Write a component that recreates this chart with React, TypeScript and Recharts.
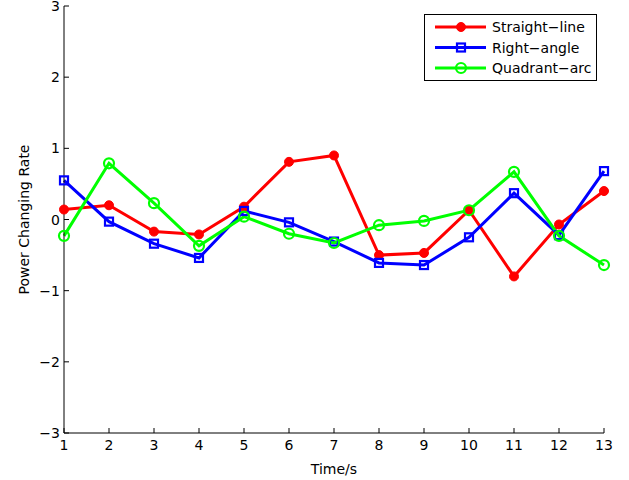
import { LineChart, Line, XAxis, YAxis, Label } from "recharts";

const times = [1, 2, 3, 4, 5, 6, 7, 8, 9, 10, 11, 12, 13];
const straightLine = [0.14, 0.2, -0.17, -0.21, 0.18, 0.81, 0.9, -0.5, -0.47, 0.13, -0.8, -0.07, 0.4];
const rightAngle = [0.55, -0.03, -0.34, -0.54, 0.12, -0.04, -0.31, -0.61, -0.64, -0.25, 0.37, -0.22, 0.68];
const quadrantArc = [-0.23, 0.79, 0.23, -0.37, 0.04, -0.2, -0.33, -0.08, -0.02, 0.13, 0.67, -0.23, -0.64];
const yTicks = [-3, -2, -1, 0, 1, 2, 3];

const data = times.map((t, i) => ({
  t,
  straight: straightLine[i],
  right: rightAngle[i],
  quadrant: quadrantArc[i],
}));

const FONT = "'DejaVu Sans', sans-serif";

const SERIES = [
  { key: "straight", name: "Straight\u2212line", color: "#ff0000", marker: "filled" },
  { key: "right", name: "Right\u2212angle", color: "#0000ff", marker: "square" },
  { key: "quadrant", name: "Quadrant\u2212arc", color: "#00ff00", marker: "circle" },
];

const Marker = ({ cx, cy, kind, color }: any) => {
  if (cx == null || cy == null) return null;
  if (kind === "filled") return <circle cx={cx} cy={cy} r={4.5} fill={color} stroke={color} strokeWidth={1} />;
  if (kind === "square")
    return <rect x={cx - 4} y={cy - 4} width={8} height={8} fill="none" stroke={color} strokeWidth={2.2} />;
  return <circle cx={cx} cy={cy} r={5} fill="none" stroke={color} strokeWidth={2.2} />;
};

const XTick = ({ x, y, payload }: any) => (
  <g>
    <line x1={x} y1={y} x2={x} y2={y - 5} stroke="#000" strokeWidth={1} />
    <text x={x} y={y + 17} textAnchor="middle" fontSize={14} fontFamily={FONT} fill="#000">
      {payload.value}
    </text>
  </g>
);

const YTick = ({ x, y, payload }: any) => (
  <g>
    <line x1={x} y1={y} x2={x + 5} y2={y} stroke="#000" strokeWidth={1} />
    <text x={x - 4} y={y + 5} textAnchor="end" fontSize={14} fontFamily={FONT} fill="#000">
      {payload.value < 0 ? "\u2212" + Math.abs(payload.value) : payload.value}
    </text>
  </g>
);

// legend drawn as an overlay so it doesn't take space from the plot
const LegendBox = () => (
  <svg width={174} height={68} style={{ position: "absolute", left: 424, top: 14, display: "block" }}>
    <rect x={0.5} y={0.5} width={172} height={66} fill="#fff" stroke="#000" strokeWidth={1} />
    {SERIES.map((s, i) => {
      const cy = 13 + i * 20.5;
      return (
        <g key={s.key}>
          <line x1={11} y1={cy} x2={62} y2={cy} stroke={s.color} strokeWidth={3} />
          <Marker cx={37} cy={cy} kind={s.marker} color={s.color} />
          <text x={68} y={cy + 5} fontSize={14} fontFamily={FONT} fill="#000">
            {s.name}
          </text>
        </g>
      );
    })}
  </svg>
);

export default function App() {
  return (
    <div style={{ position: "absolute", left: 0, top: 0, width: 629, height: 480, background: "#fff" }}>
      <LineChart width={629} height={480} data={data} margin={{ top: 6, right: 25, bottom: 0, left: 20 }}>
        <XAxis
          dataKey="t"
          type="number"
          domain={[1, 13]}
          ticks={times}
          tickSize={0}
          tickMargin={0}
          tickLine={false}
          tick={<XTick />}
          height={47}
          stroke="#000"
          interval={0}
        >
          <Label value="Time/s" position="insideBottom" offset={6} style={{ fontSize: 14, fontFamily: FONT, fill: "#000" }} />
        </XAxis>
        <YAxis
          type="number"
          domain={[-3, 3]}
          ticks={yTicks}
          tickSize={0}
          tickMargin={0}
          tickLine={false}
          tick={<YTick />}
          width={44}
          stroke="#000"
          interval={0}
        >
          <Label
            value="Power Changing Rate"
            angle={-90}
            position="insideLeft"
            offset={4}
            style={{ fontSize: 14, fontFamily: FONT, fill: "#000", textAnchor: "middle" }}
          />
        </YAxis>
        {SERIES.map((s) => (
          <Line
            key={s.key}
            dataKey={s.key}
            name={s.name}
            stroke={s.color}
            strokeWidth={3}
            isAnimationActive={false}
            dot={(p: any) => <Marker key={`${s.key}-${p.index}`} cx={p.cx} cy={p.cy} kind={s.marker} color={s.color} />}
            activeDot={false}
          />
        ))}
      </LineChart>
      <LegendBox />
    </div>
  );
}
